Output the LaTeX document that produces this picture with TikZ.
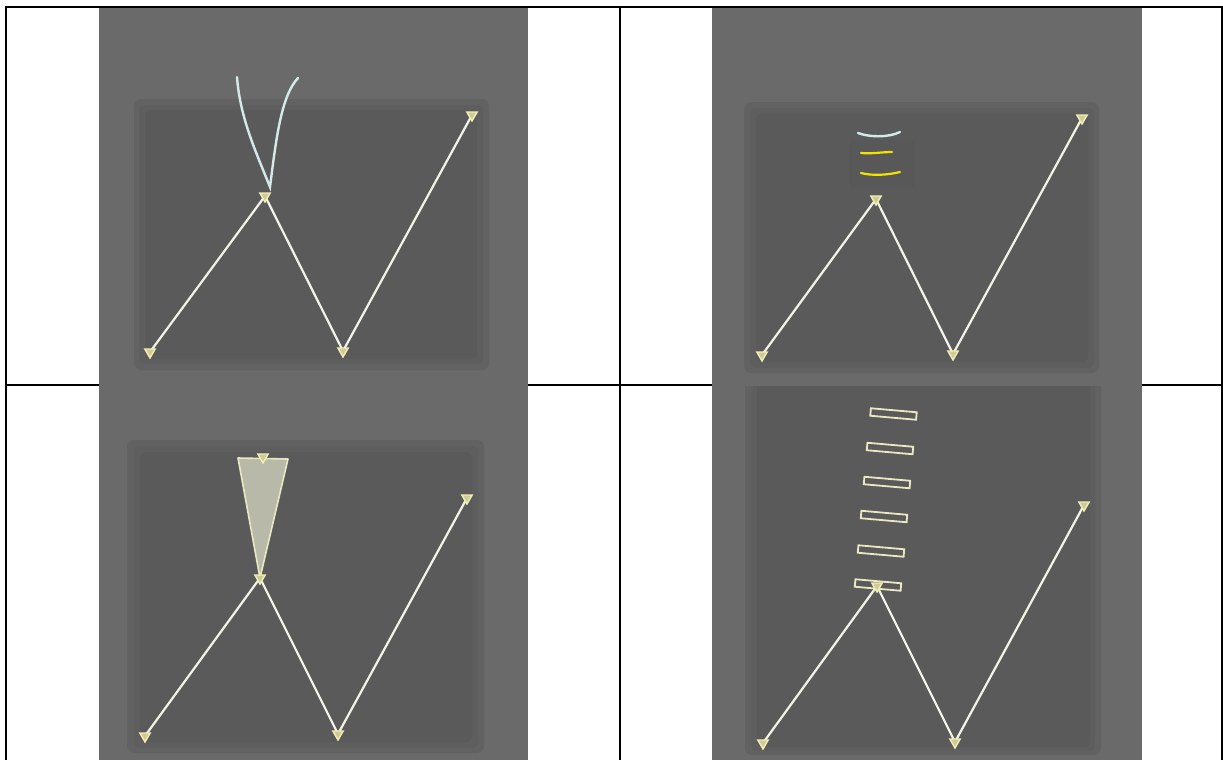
\documentclass[tikz,border=0pt]{standalone}
\usetikzlibrary{shapes.geometric}
\definecolor{shot}{HTML}{6A6A6A}
\definecolor{panA}{HTML}{626262}
\definecolor{panB}{HTML}{5E5E5E}
\definecolor{panC}{HTML}{5A5A5A}
\definecolor{inkbox}{HTML}{585858}
\definecolor{wire}{HTML}{F2F2E6}
\definecolor{mark}{HTML}{F2EEB4}
\definecolor{markin}{HTML}{CFCB98}
\definecolor{inkcyan}{HTML}{D4EAEA}
\definecolor{inkyel}{HTML}{F2E400}
\definecolor{wedgefill}{HTML}{B8B9A8}
\definecolor{wedgeline}{HTML}{EAE8C2}
\tikzset{
  tbl/.style={draw=black,line width=2pt},
  wireline/.style={draw=wire,line width=2.2pt,line cap=round,line join=round},
  vmark/.style={regular polygon,regular polygon sides=3,shape border rotate=180,
    minimum size=12pt,inner sep=0pt,draw=mark,fill=markin,line width=1.4pt},
  panelA/.style={fill=panA,rounded corners=7pt},
  panelB/.style={fill=panB,rounded corners=6pt},
  panelC/.style={fill=panC,rounded corners=5pt},
  inkline/.style={line width=2.4pt,line cap=round},
  barbox/.style={rectangle,minimum width=46pt,minimum height=7.5pt,inner sep=0pt,
    draw=wedgeline,fill=panC,line width=1.8pt,rotate=-5},
}
\begin{document}
\begin{tikzpicture}[x=1pt,y=-1pt]
\useasboundingbox (0,0) rectangle (1223,760);
\fill[white] (0,0) rectangle (1223,760);
% table rules
\draw[tbl] (6,6) -- (6,760);
\draw[tbl] (1222,6) -- (1222,760);
\draw[tbl] (620,6) -- (620,760);
\draw[tbl] (5,7) -- (1223,7);
\draw[tbl] (6,385) -- (1222,385);
% screenshot backgrounds
\fill[shot] (99,8) rectangle (528,760);
\fill[shot] (712,8) rectangle (1142,760);

% ---------- top-left ----------
\fill[panelA] (134,99) rectangle (489,370);
\fill[panelB] (139,105) rectangle (483,364);
\fill[panelC] (145,110) rectangle (477,359);
\coordinate (a1) at (150,352);
\coordinate (a2) at (265,196);
\coordinate (a3) at (343,351);
\coordinate (a4) at (472,115);
\draw[wireline] (a1) -- (a2) -- (a3) -- (a4);
\draw[inkline,draw=inkcyan] (237,77) .. controls (240,118) and (256,152) .. (270,187)
  .. controls (276,140) and (281,96) .. (298,78);
\node[vmark] (ma1) at (a1) {};
\node[vmark] (ma2) at (a2) {};
\node[vmark] (ma3) at (a3) {};
\node[vmark] (ma4) at (a4) {};

% ---------- top-right ----------
\fill[panelA] (744,102) rectangle (1099,373);
\fill[panelB] (750,108) rectangle (1094,368);
\fill[panelC] (756,114) rectangle (1088,362);
\fill[inkbox,rounded corners=5pt] (849,140) rectangle (915,188);
\coordinate (b1) at (762,355);
\coordinate (b2) at (876,199);
\coordinate (b3) at (953,354);
\coordinate (b4) at (1082,118);
\draw[wireline] (b1) -- (b2) -- (b3) -- (b4);
\draw[inkline,draw=inkcyan] (858,133) .. controls (868,137) and (888,138) .. (900,132);
\draw[inkline,draw=inkyel,line width=2.2pt] (861,153) .. controls (872,154) and (882,152) .. (892,152);
\draw[inkline,draw=inkyel,line width=2.2pt] (861,173) .. controls (872,176) and (888,175) .. (900,172);
\node[vmark] (mb1) at (b1) {};
\node[vmark] (mb2) at (b2) {};
\node[vmark] (mb3) at (b3) {};
\node[vmark] (mb4) at (b4) {};

% ---------- bottom-left ----------
\fill[panelA] (127,440) rectangle (484,753);
\fill[panelB] (134,446) rectangle (478,748);
\fill[panelC] (140,452) rectangle (472,742);
\coordinate (c1) at (145,736);
\coordinate (c2) at (260,578);
\coordinate (c3) at (338,734);
\coordinate (c4) at (467,498);
\coordinate (c5) at (263,457);
\coordinate (wl) at (238,458);
\coordinate (wr) at (288,459);
\draw[wireline] (c1) -- (c2) -- (c3) -- (c4);
\draw[fill=wedgefill,draw=wedgeline,line width=1.6pt,line join=round] (wl) -- (wr) -- (c2) -- cycle;
\node[vmark] (mc1) at (c1) {};
\node[vmark] (mc2) at (c2) {};
\node[vmark] (mc3) at (c3) {};
\node[vmark] (mc4) at (c4) {};
\node[vmark] (mc5) at (c5) {};

% ---------- bottom-right ----------
\begin{scope}
\clip (700,386) rectangle (1150,760);
\fill[panelA] (745,360) rectangle (1101,755);
\fill[panelB] (751,360) rectangle (1095,751);
\fill[panelC] (757,360) rectangle (1090,747);
\end{scope}
\coordinate (d1) at (763,743);
\coordinate (d2) at (877,586);
\coordinate (d3) at (955,742);
\coordinate (d4) at (1084,505);
\draw[wireline] (d1) -- (d2) -- (d3) -- (d4);
\node[barbox] (r1) at (893.5,414) {};
\node[barbox] (r2) at (890,448.5) {};
\node[barbox] (r3) at (887,482.5) {};
\node[barbox] (r4) at (884,516.5) {};
\node[barbox] (r5) at (881,551) {};
\node[barbox] (r6) at (878,585) {};
\node[vmark] (md1) at (d1) {};
\node[vmark] (md2) at (d2) {};
\node[vmark] (md3) at (d3) {};
\node[vmark] (md4) at (d4) {};
\end{tikzpicture}
\end{document}
